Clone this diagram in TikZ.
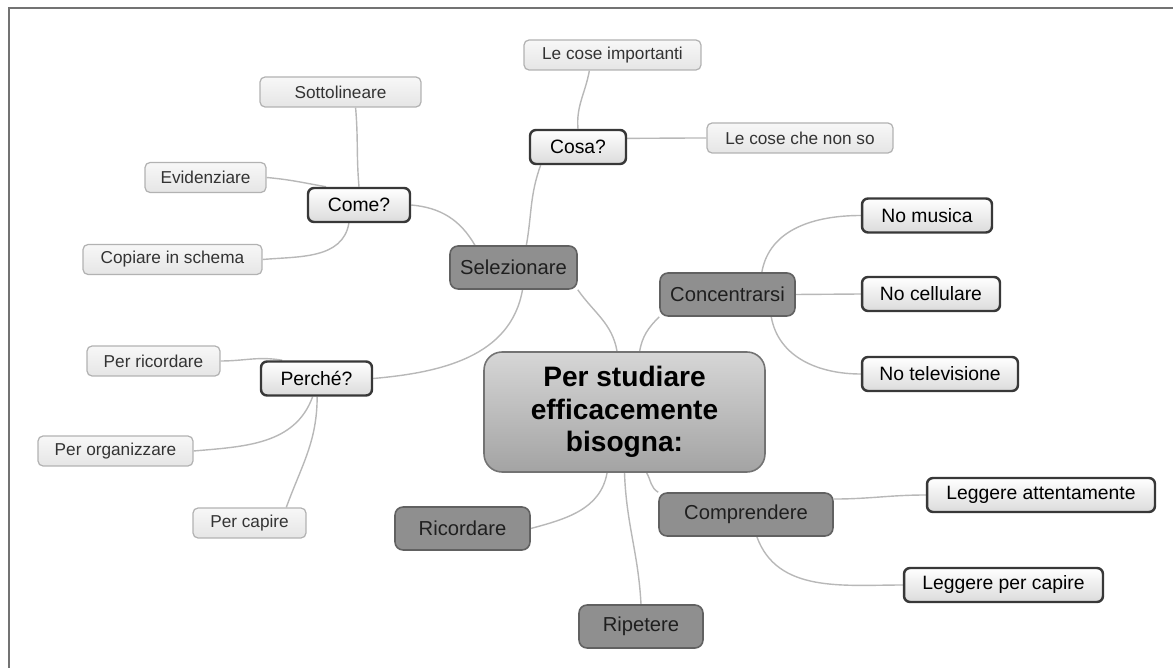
\documentclass[tikz,border=0pt]{standalone}
\usepackage{fontspec}
\setmainfont{Liberation Sans}
\usepackage{tikz}
\usetikzlibrary{positioning}
\pgfdeclarelayer{background}
\pgfsetlayers{background,main}
\tikzset{
  centerbox/.style={rectangle, rounded corners=0.36cm, draw=black!55, line width=0.9pt, top color=black!16, bottom color=black!36, minimum width=5.62cm, minimum height=2.4cm, align=center, font=\fontsize{16}{18.5}\selectfont\bfseries},
  topicbox/.style={rectangle, rounded corners=0.16cm, draw=black!62, line width=0.9pt, fill=black!44, minimum height=0.86cm, font=\fontsize{11.5}{13}\selectfont, text=black!88},
  subbox/.style={rectangle, rounded corners=0.12cm, draw=black!78, line width=1.4pt, top color=white, bottom color=black!14, minimum height=0.68cm, font=\fontsize{11}{13}\selectfont},
  leafbox/.style={rectangle, rounded corners=0.1cm, draw=black!30, line width=0.7pt, top color=black!3, bottom color=black!10, minimum height=0.6cm, font=\fontsize{9.8}{11}\selectfont, text=black!80},
  link/.style={draw=black!28, line width=0.8pt},
}

\begin{document}
\begin{tikzpicture}[x=0.02cm, y=0.02cm]
  \useasboundingbox (0,0) rectangle (1173,-668);
  \draw[black!55, line width=1.2pt] (9,-668) -- (9,-8) -- (1173,-8);

  \node[centerbox] (cent) at (624.5,-412) {Per studiare\\efficacemente\\bisogna:};

  \node[topicbox, minimum width=2.54cm] (sel) at (513.5,-267.5) {Selezionare};
  \node[topicbox, minimum width=2.7cm] (conc) at (727.5,-294.5) {Concentrarsi};
  \node[topicbox, minimum width=3.48cm] (comp) at (746,-514.5) {Comprendere};
  \node[topicbox, minimum width=2.7cm] (ric) at (462.5,-528.5) {Ricordare};
  \node[topicbox, minimum width=2.48cm] (rip) at (641,-626.5) {Ripetere};

  \node[subbox, minimum width=2.04cm] (come) at (359,-205) {Come?};
  \node[subbox, minimum width=1.92cm] (cosa) at (578,-147) {Cosa?};
  \node[subbox, minimum width=2.22cm] (perche) at (316.5,-378.5) {Perché?};
  \node[subbox, minimum width=2.6cm] (mus) at (927,-215.5) {No musica};
  \node[subbox, minimum width=2.76cm] (cell) at (931,-294) {No cellulare};
  \node[subbox, minimum width=3.12cm] (tel) at (940,-374) {No televisione};
  \node[subbox, minimum width=4.56cm] (att) at (1041,-495) {Leggere attentamente};
  \node[subbox, minimum width=3.98cm] (lpc) at (1003.5,-585) {Leggere per capire};

  \node[leafbox, minimum width=3.22cm] (sott) at (340.5,-92) {Sottolineare};
  \node[leafbox, minimum width=2.42cm] (evid) at (205.5,-177.5) {Evidenziare};
  \node[leafbox, minimum width=3.58cm] (cop) at (172.5,-259.5) {Copiare in schema};
  \node[leafbox, minimum width=3.54cm] (imp) at (612.5,-55) {Le cose importanti};
  \node[leafbox, minimum width=3.72cm] (non) at (800,-138) {Le cose che non so};
  \node[leafbox, minimum width=2.66cm] (pric) at (153.5,-361) {Per ricordare};
  \node[leafbox, minimum width=3.1cm] (porg) at (115.5,-451) {Per organizzare};
  \node[leafbox, minimum width=2.26cm] (pcap) at (249.5,-523) {Per capire};

  \begin{pgfonlayer}{background}
    \draw[link] (cent.97) to[out=100,in=-55] (sel.south east);
    \draw[link] (cent.76) to[out=80,in=-135] (conc.south west);
    \draw[link] (cent.-106) to[out=-100,in=15] (ric.east);
    \draw[link] (cent.south) to[out=-88,in=93] (rip.north);
    \draw[link] (cent.-70) to[out=-60,in=150] (comp.north west);

    \draw[link] (sel.60) to[out=80,in=-110] (cosa.-154);
    \draw[link] (sel.150) to[out=120,in=-5] (come.east);
    \draw[link] (sel.-68) to[out=-100,in=5] (perche.east);

    \draw[link] (come.north) to[out=95,in=-85] (sott.-46);
    \draw[link] (come.151) to[out=170,in=-5] (evid.east);
    \draw[link] (come.-119) to[out=-100,in=5] (cop.east);

    \draw[link] (cosa.north) to[out=95,in=-100] (imp.-146);
    \draw[link] (cosa.10) to[out=0,in=180] (non.west);

    \draw[link] (conc.33.5) to[out=80,in=180] (mus.west);
    \draw[link] (conc.east) -- (cell.west);
    \draw[link] (conc.-27) to[out=-80,in=180] (tel.west);

    \draw[link] (comp.10) to[out=0,in=180] (att.west);
    \draw[link] (comp.-64) to[out=-70,in=180] (lpc.west);

    \draw[link] (perche.152) to[out=170,in=0] (pric.east);
    \draw[link] (perche.-102) to[out=-110,in=5] (porg.east);
    \draw[link] (perche.-88) to[out=-90,in=70] (pcap.23);
  \end{pgfonlayer}
\end{tikzpicture}
\end{document}
